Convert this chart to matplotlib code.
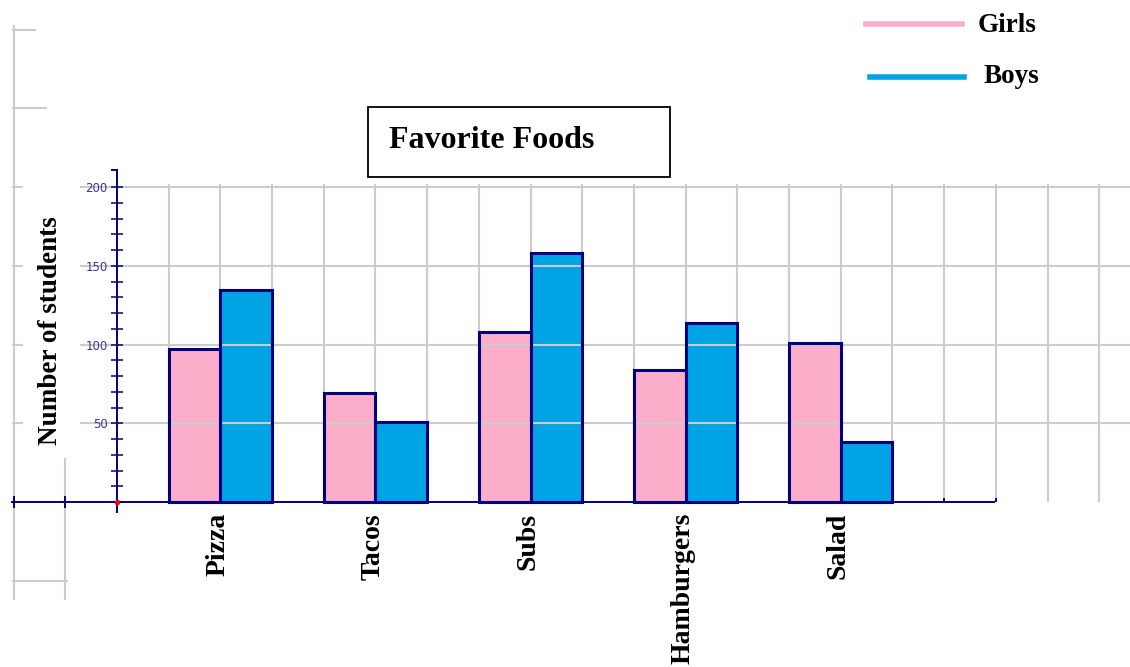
import numpy as np
import matplotlib.pyplot as plt
from matplotlib.patches import Rectangle
from matplotlib.lines import Line2D

foods = ['Pizza', 'Tacos', 'Subs', 'Hamburgers', 'Salad']
girls = [97, 69, 108, 84, 101]
boys = [135, 51, 158, 114, 38]
centers = [2, 5, 8, 11, 14]   # grid cells, girls bar left of center, boys right
y_ticks = list(range(0, 201, 10))
y_labeled = [50, 100, 150, 200]

pink = '#fbadc9'
blue = '#00a3e4'
navy = '#00007f'
grey = '#cccccc'
serif = 'Liberation Serif'

fig = plt.figure(figsize=(11.3, 6.67), dpi=100)
ax = fig.add_axes([0, 0, 1, 1])
ax.set_xlim(-2.263, 19.594)
ax.set_ylim(-104.8, 318.9)
ax.patch.set_alpha(0)
ax.set_axisbelow(False)  # ticks on top of the grey grid

x = np.array(centers)

# bar fills, grid on top of them, then outlines
ax.bar(x - 1, girls, width=1, align='edge', color=pink, zorder=1)
ax.bar(x, boys, width=1, align='edge', color=blue, zorder=1)

# graph-paper grid (partly erased on the left)
for v in [50, 100, 150, 200]:
    ax.hlines(v, -2.03, -1.82, color=grey, lw=1.5, zorder=2)
    ax.hlines(v, -0.72, 19.6, color=grey, lw=1.5, zorder=2)
ax.hlines(250, -2.03, -1.35, color=grey, lw=1.5, zorder=2)
ax.hlines(300, -2.03, -1.57, color=grey, lw=1.5, zorder=2)
ax.hlines(-50, -2.03, -0.95, color=grey, lw=1.5, zorder=2)
ax.vlines(-2, -62, 303, color=grey, lw=1.5, zorder=2)
ax.vlines(-1, -62, 28, color=grey, lw=1.5, zorder=2)
ax.vlines(np.arange(1, 20), 0, 202, color=grey, lw=1.5, zorder=2)

ax.bar(x - 1, girls, width=1, align='edge', fill=False, edgecolor=navy, lw=2.2, zorder=3)
ax.bar(x, boys, width=1, align='edge', fill=False, edgecolor=navy, lw=2.2, zorder=3)

# axes
for s in ['top', 'right']:
    ax.spines[s].set_visible(False)
ax.spines['left'].set_position(('data', 0))
ax.spines['bottom'].set_position(('data', 0))
ax.spines['left'].set_bounds(-6.5, 211)
ax.spines['bottom'].set_bounds(-2.03, 16.97)
for s in ['left', 'bottom']:
    ax.spines[s].set_color(navy)
    ax.spines[s].set_linewidth(1.4)
    ax.spines[s].set_zorder(4)
ax.plot([-0.1, 0], [211, 211], color=navy, lw=1.4, zorder=4)

ax.set_yticks(y_ticks)
ax.set_yticklabels([str(v) if v in y_labeled else '' for v in y_ticks])
ax.tick_params(axis='y', direction='inout', length=8.5, width=1.1, color=navy,
               labelsize=8.5, labelcolor='#33339a', pad=2.5)
ax.set_xticks([-2, -1])
ax.set_xticklabels(['', ''])
ax.set_xticks([16, 17], minor=True)
ax.tick_params(axis='x', which='major', direction='inout', length=9, width=1.4, color=navy)
ax.tick_params(axis='x', which='minor', direction='in', length=3, width=1.4, color=navy)
ax.plot(0, 0, 'o', color='red', ms=3, zorder=5, clip_on=False)

# category labels
for c, name in zip(centers, foods):
    ax.text(c - 0.05, -7, name, rotation=90, ha='center', va='top', fontsize=20,
            fontweight='bold', family=serif)

ax.text(-1.28, 108.6, 'Number of students', rotation=90, ha='center', va='center',
        fontsize=19.5, fontweight='bold', family=serif)

# title box
fig.patches.append(Rectangle((368 / 1130, 1 - 177 / 667), 302 / 1130, 70 / 667,
                             transform=fig.transFigure, fill=False, edgecolor='black', lw=1.3))
fig.text(389 / 1130, 1 - 148 / 667, 'Favorite Foods', ha='left', va='baseline',
         fontsize=23, fontweight='bold', family=serif)

# legend drawn by hand like the original
fig.add_artist(Line2D([866 / 1130, 962 / 1130], [1 - 24 / 667, 1 - 24 / 667],
                      color=pink, lw=4, transform=fig.transFigure))
fig.add_artist(Line2D([870 / 1130, 964 / 1130], [1 - 77 / 667, 1 - 77 / 667],
                      color=blue, lw=4, transform=fig.transFigure))
fig.text(978 / 1130, 1 - 32 / 667, 'Girls', ha='left', va='baseline',
         fontsize=19.5, fontweight='bold', family=serif)
fig.text(984 / 1130, 1 - 83 / 667, 'Boys', ha='left', va='baseline',
         fontsize=19.5, fontweight='bold', family=serif)

fig.savefig('out.png', dpi=100)
